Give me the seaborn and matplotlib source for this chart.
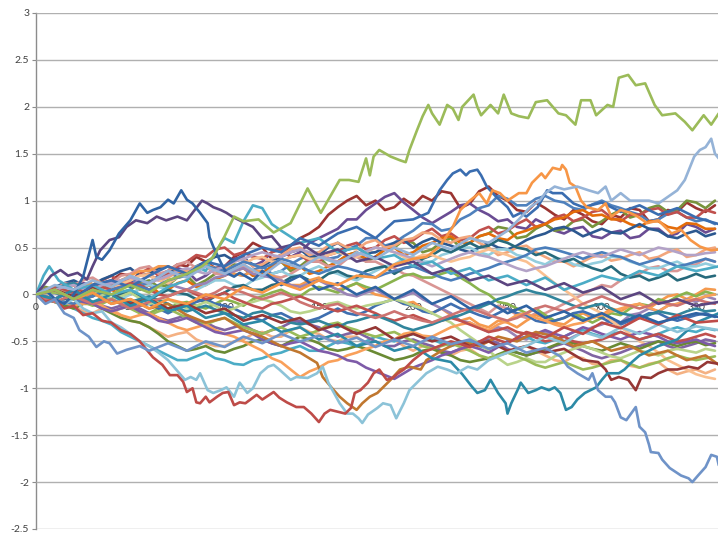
import numpy as np
import pandas as pd
import matplotlib
matplotlib.use("Agg")
import matplotlib.pyplot as plt
import seaborn as sns

# Common step grid (every 5 steps) for the grid-read walks
STEPS = list(range(0, 361, 5))

# Walks traced at irregular steps: (step, value)
green = [(0, 0.0), (10, 0.05), (20, -0.05), (30, 0.05), (40, 0.0), (50, 0.1), (60, 0.02), (70, 0.15),
         (80, 0.22), (88, 0.3), (94, 0.4), (100, 0.62), (105, 0.83), (110, 0.78), (118, 0.8), (126, 0.66),
         (135, 0.76), (144, 1.13), (151, 0.87), (161, 1.22), (166, 1.22), (171, 1.2), (175, 1.45),
         (177, 1.27), (179, 1.47), (182, 1.54), (188, 1.47), (193, 1.43), (196, 1.41), (198, 1.54),
         (202, 1.75), (205, 1.9), (208, 2.02), (210, 1.93), (214, 1.81), (218, 2.02), (221, 1.98),
         (224, 1.86), (226, 2.0), (232, 2.13), (234, 2.0), (236, 1.91), (241, 2.02), (245, 1.93),
         (248, 2.13), (252, 1.93), (256, 1.9), (261, 1.88), (265, 2.05), (271, 2.07), (277, 1.93),
         (281, 1.91), (286, 1.81), (289, 2.07), (294, 2.07), (297, 1.91), (303, 2.02), (306, 2.0),
         (309, 2.31), (314, 2.34), (318, 2.23), (323, 2.25), (328, 2.02), (332, 1.91), (339, 1.93),
         (344, 1.84), (348, 1.75), (354, 1.91), (358, 1.81), (362, 1.93)]

blue_low = [(0, 0.0), (5, -0.1), (10, -0.05), (15, -0.2), (20, -0.25), (23, -0.38), (28, -0.45), (32, -0.56),
            (36, -0.5), (39, -0.52), (43, -0.63), (48, -0.59), (55, -0.55), (60, -0.6), (70, -0.52), (80, -0.6),
            (90, -0.5), (100, -0.56), (110, -0.45), (120, -0.52), (130, -0.42), (140, -0.5), (150, -0.44),
            (160, -0.52), (170, -0.46), (180, -0.56), (190, -0.48), (200, -0.55), (210, -0.45), (220, -0.53),
            (230, -0.48), (240, -0.58), (250, -0.52), (260, -0.62), (270, -0.57), (278, -0.66), (282, -0.77),
            (287, -0.84), (293, -0.91), (295, -0.84), (298, -1.02), (302, -1.09), (305, -1.09), (307, -1.15),
            (310, -1.31), (313, -1.34), (318, -1.2), (320, -1.41), (323, -1.47), (325, -1.6), (326, -1.68),
            (330, -1.69), (332, -1.76), (336, -1.85), (339, -1.89), (342, -1.93), (346, -1.96), (348, -2.0),
            (351, -1.93), (355, -1.84), (358, -1.71), (361, -1.73), (362, -1.82)]

lblue_top = [(0, 0.0), (10, 0.1), (20, 0.05), (30, 0.15), (40, 0.08), (50, 0.2), (60, 0.12), (70, 0.25),
             (80, 0.18), (90, 0.3), (100, 0.22), (110, 0.32), (120, 0.2), (130, 0.35), (140, 0.28), (150, 0.4),
             (160, 0.33), (170, 0.45), (180, 0.38), (190, 0.5), (200, 0.42), (210, 0.55), (220, 0.48),
             (230, 0.6), (240, 0.55), (250, 0.68), (256, 0.8), (262, 0.93), (267, 1.0), (270, 1.08),
             (275, 1.15), (280, 1.12), (287, 1.15), (293, 1.11), (298, 1.08), (302, 1.15), (305, 1.0),
             (310, 1.08), (315, 1.0), (320, 1.0), (325, 1.0), (330, 0.97), (335, 1.04), (340, 1.11),
             (344, 1.22), (349, 1.47), (352, 1.54), (355, 1.57), (358, 1.66), (360, 1.5), (362, 1.45)]

red_low = [(0, 0.0), (5, -0.08), (10, -0.05), (15, -0.15), (20, -0.12), (25, -0.22), (30, -0.2), (35, -0.28),
           (40, -0.3), (45, -0.38), (50, -0.42), (55, -0.5), (62, -0.67), (67, -0.75), (71, -0.86), (75, -0.86),
           (78, -0.93), (80, -1.04), (83, -1.0), (85, -1.15), (87, -1.16), (90, -1.09), (92, -1.15), (96, -1.09),
           (99, -1.05), (102, -1.04), (105, -1.18), (108, -1.15), (111, -1.16), (117, -1.07), (120, -1.12),
           (126, -1.04), (129, -1.1), (133, -1.15), (138, -1.2), (142, -1.2), (146, -1.27), (150, -1.36),
           (153, -1.27), (156, -1.23), (160, -1.25), (164, -1.27), (167, -1.21), (169, -1.05), (172, -1.02),
           (176, -0.94), (179, -0.84), (182, -0.8), (186, -0.91), (189, -0.89), (192, -0.84), (195, -0.8),
           (200, -0.7), (205, -0.62), (210, -0.58), (220, -0.5), (230, -0.56), (240, -0.45), (250, -0.52),
           (260, -0.4), (270, -0.46), (280, -0.35), (290, -0.42), (300, -0.3), (310, -0.36), (320, -0.25),
           (330, -0.32), (340, -0.22), (350, -0.3), (362, -0.28)]

lblue_low = [(0, 0.0), (5, 0.05), (10, -0.05), (15, -0.1), (20, -0.05), (25, -0.15), (30, -0.2), (35, -0.18),
             (40, -0.3), (45, -0.35), (50, -0.42), (55, -0.5), (60, -0.55), (65, -0.62), (70, -0.7), (73, -0.77),
             (76, -0.84), (79, -0.91), (82, -0.88), (85, -0.91), (87, -0.84), (91, -1.02), (94, -1.05),
             (98, -1.02), (101, -0.99), (105, -1.09), (108, -0.94), (112, -1.05), (115, -1.0), (119, -0.84),
             (123, -0.77), (126, -0.75), (129, -0.8), (135, -0.91), (138, -0.88), (144, -0.89), (149, -0.84),
             (152, -0.77), (155, -0.94), (158, -1.05), (161, -1.16), (165, -1.27), (168, -1.27), (171, -1.32),
             (173, -1.37), (176, -1.28), (181, -1.21), (184, -1.16), (188, -1.18), (191, -1.32), (195, -1.16),
             (198, -1.02), (202, -0.94), (207, -0.84), (213, -0.77), (218, -0.8), (223, -0.84), (229, -0.77),
             (234, -0.8), (240, -0.7), (250, -0.62), (260, -0.55), (270, -0.45), (280, -0.52), (290, -0.4),
             (300, -0.46), (310, -0.35), (320, -0.42), (330, -0.32), (340, -0.4), (350, -0.34), (362, -0.38)]

teal_low = [(0, 0.0), (10, -0.05), (20, 0.05), (30, -0.08), (40, 0.0), (50, -0.12), (60, -0.05), (70, -0.18),
            (80, -0.12), (90, -0.25), (100, -0.2), (110, -0.32), (120, -0.28), (130, -0.4), (140, -0.35),
            (150, -0.48), (160, -0.42), (170, -0.55), (180, -0.5), (190, -0.6), (200, -0.55), (210, -0.68),
            (220, -0.72), (226, -0.85), (231, -0.98), (234, -1.05), (238, -1.02), (241, -0.91), (245, -1.05),
            (249, -1.16), (250, -1.27), (252, -1.16), (256, -0.99), (257, -0.94), (261, -1.05), (265, -1.02),
            (268, -0.99), (272, -1.02), (275, -0.99), (278, -1.05), (281, -1.23), (284, -1.2), (287, -1.12),
            (291, -1.05), (294, -1.02), (297, -0.99), (300, -0.91), (303, -0.84), (309, -0.84), (312, -0.8),
            (316, -0.72), (320, -0.65), (330, -0.55), (340, -0.48), (350, -0.3), (362, -0.2)]

darkred_low = [(0, 0.0), (10, 0.05), (20, -0.02), (30, 0.08), (40, 0.0), (50, -0.1), (60, -0.05), (70, -0.15),
               (80, -0.1), (90, -0.2), (100, -0.15), (110, -0.28), (120, -0.22), (130, -0.3), (140, -0.25),
               (150, -0.38), (160, -0.32), (170, -0.42), (180, -0.35), (190, -0.48), (200, -0.42), (210, -0.5),
               (220, -0.45), (230, -0.55), (240, -0.5), (250, -0.6), (260, -0.55), (270, -0.62), (280, -0.58),
               (290, -0.7), (298, -0.72), (302, -0.8), (305, -0.91), (309, -0.88), (314, -0.91), (318, -1.02),
               (321, -0.88), (326, -0.89), (330, -0.84), (335, -0.8), (340, -0.8), (346, -0.77), (351, -0.79),
               (356, -0.72), (362, -0.74)]

orange_top = [(0, 0.0), (10, 0.05), (20, -0.05), (30, 0.02), (40, -0.1), (50, -0.05), (60, -0.15), (70, -0.05),
              (80, -0.1), (90, 0.0), (100, -0.05), (110, 0.08), (120, 0.02), (130, 0.12), (140, 0.05),
              (150, 0.15), (160, 0.1), (170, 0.2), (180, 0.18), (190, 0.32), (200, 0.38), (207, 0.4),
              (214, 0.51), (221, 0.72), (225, 0.9), (230, 1.0), (235, 1.08), (239, 0.97), (242, 1.11),
              (246, 1.08), (250, 1.0), (256, 1.08), (260, 1.08), (263, 1.19), (268, 1.29), (270, 1.24),
              (274, 1.35), (278, 1.33), (279, 1.38), (281, 1.33), (283, 1.19), (286, 1.15), (289, 1.0),
              (292, 0.93), (298, 0.9), (302, 0.97), (305, 0.83), (310, 0.9), (315, 0.87), (319, 0.83),
              (324, 0.76), (330, 0.79), (337, 0.65), (342, 0.69), (347, 0.58), (352, 0.51), (358, 0.47),
              (362, 0.48)]

aqua_mid = [(0, 0.0), (4, 0.2), (7, 0.3), (12, 0.15), (20, 0.05), (30, 0.1), (40, 0.0), (50, 0.05), (60, -0.05),
            (70, 0.08), (80, 0.15), (85, 0.3), (90, 0.25), (95, 0.45), (100, 0.6), (105, 0.55), (110, 0.78),
            (115, 0.95), (120, 0.92), (125, 0.75), (130, 0.68), (140, 0.55), (150, 0.6), (160, 0.45),
            (170, 0.5), (180, 0.38), (190, 0.42), (200, 0.3), (210, 0.35), (220, 0.22), (230, 0.28),
            (240, 0.15), (250, 0.2), (260, 0.1), (270, 0.18), (280, 0.05), (290, 0.12), (300, 0.2),
            (310, 0.15), (320, 0.25), (330, 0.2), (340, 0.3), (350, 0.25), (362, 0.3)]

darkblue_early = [(0, 0.0), (5, 0.05), (10, -0.05), (15, -0.1), (20, 0.0), (25, 0.19), (30, 0.58), (32, 0.4),
                  (35, 0.37), (39, 0.47), (44, 0.65), (50, 0.79), (55, 0.97), (59, 0.87), (62, 0.9), (66, 0.93),
                  (70, 1.01), (73, 0.97), (77, 1.11), (80, 1.01), (83, 0.97), (87, 0.87), (91, 0.76), (92, 0.61),
                  (94, 0.51), (98, 0.34), (101, 0.23), (105, 0.19), (108, 0.23), (115, 0.15), (120, 0.25),
                  (130, 0.1), (140, 0.2), (150, 0.05), (160, 0.12), (170, 0.0), (180, 0.08), (190, -0.05),
                  (200, 0.05), (210, -0.1), (220, -0.02), (230, -0.15), (240, -0.08), (250, -0.2), (260, -0.12),
                  (270, -0.25), (280, -0.18), (290, -0.28), (300, -0.2), (310, -0.3), (320, -0.22), (330, -0.3),
                  (340, -0.25), (350, -0.2), (362, -0.24)]

purple_early = [(0, 0.0), (4, 0.1), (8, 0.2), (13, 0.26), (17, 0.2), (22, 0.23), (27, 0.16), (30, 0.3),
                (34, 0.47), (39, 0.58), (44, 0.61), (48, 0.72), (53, 0.79), (59, 0.76), (64, 0.83), (69, 0.79),
                (75, 0.83), (80, 0.79), (83, 0.87), (88, 1.0), (91, 0.97), (94, 0.93), (98, 0.9), (101, 0.87),
                (104, 0.83), (108, 0.79), (115, 0.72), (120, 0.6), (125, 0.62), (130, 0.5), (140, 0.55),
                (150, 0.42), (160, 0.48), (170, 0.35), (180, 0.4), (190, 0.3), (200, 0.35), (210, 0.22),
                (220, 0.28), (230, 0.15), (240, 0.2), (250, 0.1), (260, 0.15), (270, 0.05), (280, 0.12),
                (290, 0.02), (300, 0.08), (310, -0.05), (320, 0.02), (330, -0.1), (340, -0.05), (350, -0.12),
                (362, -0.08)]

blue_peak = [(0, 0.0), (10, 0.05), (20, -0.05), (30, 0.1), (40, 0.15), (50, 0.08), (60, 0.2), (70, 0.3),
             (80, 0.22), (90, 0.35), (100, 0.3), (110, 0.42), (120, 0.5), (130, 0.45), (140, 0.6), (150, 0.52),
             (160, 0.65), (170, 0.72), (180, 0.6), (190, 0.78), (200, 0.8), (208, 0.87), (214, 1.11),
             (218, 1.22), (221, 1.29), (225, 1.33), (228, 1.27), (230, 1.31), (234, 1.33), (236, 1.27),
             (239, 1.15), (244, 1.04), (250, 0.93), (253, 0.83), (257, 0.87), (260, 0.83), (266, 0.93),
             (271, 1.11), (274, 1.08), (279, 1.08), (285, 0.97), (290, 0.93), (300, 0.98), (310, 0.88),
             (320, 0.95), (330, 0.85), (340, 0.92), (350, 0.82), (362, 0.75)]

brown_low = [(0, 0.0), (10, 0.05), (20, -0.05), (30, 0.02), (40, -0.1), (50, -0.05), (60, -0.15), (70, -0.1),
             (80, -0.22), (90, -0.3), (100, -0.25), (110, -0.38), (120, -0.45), (130, -0.55), (140, -0.62),
             (149, -0.73), (152, -0.88), (157, -1.0), (161, -1.09), (165, -1.16), (170, -1.23), (173, -1.16),
             (177, -1.09), (181, -1.05), (184, -0.99), (188, -0.91), (193, -0.8), (198, -0.77), (204, -0.8),
             (207, -0.7), (215, -0.6), (225, -0.5), (235, -0.55), (245, -0.45), (255, -0.5), (265, -0.4),
             (275, -0.45), (285, -0.55), (295, -0.5), (305, -0.6), (315, -0.55), (325, -0.65), (335, -0.6),
             (345, -0.7), (355, -0.65), (362, -0.75)]

# Walks read on the 5-step grid (one row = 50 steps)
darkred_top = [0, 0.06, 0.05, 0.12, 0.1, 0.02, 0.05, 0.12, 0.15, 0.22,
               0.2, 0.08, 0.12, 0.2, 0.25, 0.32, 0.3, 0.4, 0.35, 0.28,
               0.3, 0.4, 0.45, 0.55, 0.5, 0.38, 0.42, 0.52, 0.6, 0.65,
               0.72, 0.85, 0.93, 1.0, 1.05, 0.95, 1.0, 0.9, 0.93, 1.02,
               0.95, 1.05, 1.0, 1.1, 1.08, 0.92, 0.97, 1.1, 1.15, 1.05,
               1.0, 0.9, 0.88, 0.98, 0.92, 0.85, 0.8, 0.9, 0.85, 0.78,
               0.75, 0.85, 0.82, 0.92, 0.9, 0.78, 0.8, 0.9, 0.88, 0.98,
               0.92, 0.88, 0.95]
purple_top = [0, 0.05, -0.05, 0.0, 0.05, 0.12, 0.1, 0.0, 0.05, 0.15,
              0.15, 0.05, 0.1, 0.18, 0.2, 0.28, 0.25, 0.15, 0.2, 0.28,
              0.3, 0.38, 0.4, 0.3, 0.35, 0.45, 0.5, 0.4, 0.45, 0.55,
              0.6, 0.65, 0.7, 0.8, 0.8, 0.9, 0.97, 1.04, 1.08, 0.98,
              0.9, 0.82, 0.76, 0.82, 0.88, 0.95, 0.97, 0.9, 0.85, 0.78,
              0.8, 0.72, 0.7, 0.8, 0.75, 0.68, 0.65, 0.7, 0.72, 0.62,
              0.6, 0.66, 0.68, 0.6, 0.62, 0.7, 0.7, 0.62, 0.65, 0.75,
              0.72, 0.66, 0.7]
olive = [0, 0.08, 0.05, -0.02, -0.05, 0.02, 0.0, 0.06, 0.1, 0.02,
         0.05, 0.12, 0.15, 0.08, 0.1, 0.18, 0.2, 0.1, 0.15, 0.22,
         0.25, 0.32, 0.3, 0.2, 0.22, 0.3, 0.35, 0.25, 0.3, 0.38,
         0.4, 0.3, 0.35, 0.42, 0.45, 0.35, 0.4, 0.48, 0.5, 0.58,
         0.55, 0.45, 0.48, 0.56, 0.6, 0.5, 0.55, 0.62, 0.65, 0.72,
         0.7, 0.6, 0.62, 0.7, 0.75, 0.68, 0.7, 0.78, 0.8, 0.72,
         0.78, 0.85, 0.9, 0.82, 0.85, 0.92, 0.95, 0.88, 0.9, 1.0,
         0.98, 0.92, 1.0]
blue_mid = [0, -0.06, -0.05, 0.02, 0.05, 0.0, -0.02, 0.05, 0.1, 0.15,
            0.18, 0.1, 0.12, 0.2, 0.25, 0.18, 0.2, 0.28, 0.32, 0.25,
            0.28, 0.22, 0.2, 0.26, 0.3, 0.22, 0.25, 0.32, 0.38, 0.42,
            0.45, 0.38, 0.4, 0.48, 0.52, 0.6, 0.6, 0.52, 0.55, 0.62,
            0.68, 0.76, 0.75, 0.68, 0.7, 0.8, 0.85, 0.92, 0.95, 1.05,
            1.02, 0.95, 0.95, 1.02, 1.05, 1.0, 0.98, 0.92, 0.9, 0.96,
            1.0, 0.95, 0.92, 0.88, 0.85, 0.78, 0.8, 0.86, 0.88, 0.82,
            0.78, 0.8, 0.75]
red_mid = [0, 0.02, 0.05, 0.1, 0.12, 0.05, 0.08, 0.15, 0.2, 0.12,
           0.15, 0.22, 0.28, 0.2, 0.22, 0.3, 0.35, 0.42, 0.4, 0.48,
           0.5, 0.42, 0.45, 0.4, 0.38, 0.45, 0.48, 0.4, 0.42, 0.35,
           0.35, 0.42, 0.45, 0.52, 0.55, 0.48, 0.5, 0.58, 0.62, 0.55,
           0.58, 0.65, 0.7, 0.62, 0.65, 0.58, 0.6, 0.68, 0.72, 0.65,
           0.68, 0.75, 0.8, 0.72, 0.75, 0.82, 0.85, 0.78, 0.82, 0.88,
           0.9, 0.82, 0.78, 0.85, 0.85, 0.9, 0.92, 0.85, 0.88, 0.82,
           0.82, 0.9, 0.87]
darkorange = [0, -0.02, -0.05, -0.1, -0.1, -0.05, -0.02, 0.05, 0.05, 0.0,
              0.0, 0.06, 0.1, 0.02, 0.05, 0.12, 0.15, 0.08, 0.1, 0.16,
              0.2, 0.25, 0.28, 0.2, 0.22, 0.3, 0.35, 0.28, 0.3, 0.22,
              0.25, 0.3, 0.35, 0.42, 0.45, 0.38, 0.4, 0.48, 0.5, 0.42,
              0.45, 0.52, 0.55, 0.6, 0.62, 0.55, 0.55, 0.62, 0.65, 0.6,
              0.58, 0.65, 0.68, 0.72, 0.75, 0.8, 0.82, 0.88, 0.9, 0.84,
              0.85, 0.8, 0.8, 0.75, 0.72, 0.78, 0.78, 0.72, 0.7, 0.76,
              0.75, 0.7, 0.7]
darkblue_mid = [0, 0.05, 0.08, 0.12, 0.15, 0.1, 0.1, 0.16, 0.2, 0.25,
                0.28, 0.2, 0.22, 0.28, 0.3, 0.22, 0.25, 0.3, 0.35, 0.4,
                0.42, 0.36, 0.38, 0.32, 0.3, 0.36, 0.4, 0.45, 0.48, 0.4,
                0.42, 0.5, 0.55, 0.48, 0.5, 0.44, 0.45, 0.5, 0.55, 0.58,
                0.5, 0.56, 0.6, 0.55, 0.52, 0.48, 0.45, 0.5, 0.55, 0.5,
                0.48, 0.52, 0.58, 0.62, 0.65, 0.7, 0.72, 0.68, 0.62, 0.66,
                0.7, 0.66, 0.65, 0.7, 0.75, 0.7, 0.68, 0.62, 0.6, 0.65,
                0.68, 0.62, 0.65]
peach = [0, -0.02, -0.05, 0.0, 0.05, 0.1, 0.1, 0.05, 0.05, 0.12,
         0.15, 0.2, 0.22, 0.15, 0.18, 0.24, 0.25, 0.3, 0.32, 0.25,
         0.28, 0.35, 0.38, 0.3, 0.32, 0.38, 0.42, 0.48, 0.5, 0.42,
         0.45, 0.52, 0.55, 0.5, 0.48, 0.55, 0.58, 0.5, 0.52, 0.58,
         0.6, 0.66, 0.65, 0.58, 0.55, 0.6, 0.62, 0.55, 0.5, 0.42,
         0.45, 0.5, 0.52, 0.45, 0.4, 0.35, 0.35, 0.3, 0.35, 0.4,
         0.42, 0.36, 0.38, 0.42, 0.45, 0.38, 0.4, 0.45, 0.48, 0.4,
         0.42, 0.48, 0.5]
pink = [0, 0.06, 0.05, 0.12, 0.1, 0.15, 0.18, 0.12, 0.12, 0.2,
        0.22, 0.28, 0.3, 0.22, 0.25, 0.32, 0.35, 0.28, 0.3, 0.22,
        0.22, 0.28, 0.3, 0.25, 0.25, 0.2, 0.18, 0.22, 0.28, 0.35,
        0.35, 0.3, 0.3, 0.38, 0.4, 0.35, 0.35, 0.3, 0.28, 0.22,
        0.2, 0.15, 0.1, 0.05, 0.0, -0.05, -0.1, -0.15, -0.2, -0.12,
        -0.15, -0.22, -0.25, -0.2, -0.2, -0.15, -0.1, -0.05, 0.0, 0.05,
        0.1, 0.08, 0.15, 0.2, 0.22, 0.28, 0.3, 0.25, 0.25, 0.3,
        0.32, 0.38, 0.35]
light_aqua = [0, 0.02, 0.05, 0.0, -0.05, -0.02, 0.02, 0.0, -0.08, -0.05,
              0.0, 0.06, 0.1, 0.08, 0.05, 0.0, 0.0, 0.05, 0.1, 0.15,
              0.15, 0.1, 0.08, 0.15, 0.18, 0.22, 0.25, 0.2, 0.2, 0.26,
              0.3, 0.25, 0.22, 0.18, 0.15, 0.2, 0.25, 0.3, 0.32, 0.38,
              0.4, 0.35, 0.35, 0.42, 0.45, 0.5, 0.5, 0.45, 0.42, 0.48,
              0.48, 0.42, 0.4, 0.35, 0.32, 0.38, 0.38, 0.32, 0.3, 0.33,
              0.35, 0.4, 0.4, 0.35, 0.32, 0.28, 0.28, 0.32, 0.35, 0.3,
              0.3, 0.33, 0.3]
dark_teal = [0, -0.05, -0.08, -0.05, -0.02, -0.06, -0.1, -0.05, -0.05, 0.0,
             0.02, -0.02, -0.05, 0.0, 0.05, 0.02, 0.0, -0.05, -0.08, -0.02,
             0.02, 0.08, 0.1, 0.05, 0.05, 0.1, 0.12, 0.18, 0.2, 0.15,
             0.15, 0.22, 0.25, 0.2, 0.18, 0.25, 0.28, 0.3, 0.22, 0.28,
             0.3, 0.38, 0.42, 0.48, 0.45, 0.5, 0.55, 0.5, 0.52, 0.58,
             0.55, 0.5, 0.48, 0.42, 0.45, 0.4, 0.35, 0.38, 0.32, 0.28,
             0.25, 0.3, 0.22, 0.18, 0.2, 0.15, 0.18, 0.22, 0.15, 0.18,
             0.22, 0.18, 0.2]
orange_mid = [0, 0.02, 0.05, 0.08, 0.1, 0.05, 0.15, 0.12, 0.08, 0.15,
              0.2, 0.25, 0.25, 0.3, 0.3, 0.25, 0.22, 0.28, 0.32, 0.28,
              0.28, 0.22, 0.2, 0.25, 0.25, 0.2, 0.15, 0.1, 0.1, 0.15,
              0.18, 0.1, 0.05, 0.08, 0.12, 0.05, 0.0, -0.02, -0.05, -0.1,
              -0.08, -0.15, -0.2, -0.15, -0.22, -0.28, -0.25, -0.32, -0.35, -0.28,
              -0.3, -0.35, -0.28, -0.22, -0.25, -0.3, -0.32, -0.25, -0.2, -0.25,
              -0.22, -0.15, -0.18, -0.12, -0.1, -0.15, -0.08, -0.02, 0.0, -0.05,
              0.0, 0.06, 0.05]
green_mid = [0, -0.02, -0.05, -0.1, -0.12, -0.08, -0.08, -0.12, -0.18, -0.15,
             -0.12, -0.18, -0.2, -0.15, -0.15, -0.1, -0.08, -0.12, -0.15, -0.1,
             -0.05, -0.08, -0.12, -0.05, -0.02, 0.02, 0.05, 0.0, -0.02, 0.05,
             0.08, 0.05, 0.02, 0.08, 0.12, 0.08, 0.05, 0.1, 0.15, 0.2,
             0.22, 0.18, 0.18, 0.22, 0.25, 0.18, 0.12, 0.05, 0.0, -0.08,
             -0.1, -0.15, -0.2, -0.15, -0.22, -0.28, -0.25, -0.2, -0.25, -0.3,
             -0.25, -0.2, -0.22, -0.15, -0.1, -0.12, -0.05, -0.08, -0.02, 0.02,
             -0.02, 0.03, 0.0]
lavender = [0, 0.03, 0.05, 0.02, 0.0, 0.05, 0.08, 0.12, 0.15, 0.1,
            0.1, 0.15, 0.2, 0.15, 0.12, 0.08, 0.05, 0.1, 0.12, 0.18,
            0.2, 0.25, 0.28, 0.22, 0.2, 0.18, 0.15, 0.1, 0.08, 0.12,
            0.15, 0.1, 0.05, 0.0, -0.02, 0.02, 0.05, 0.0, -0.05, -0.02,
            0.02, -0.05, -0.1, -0.15, -0.2, -0.28, -0.3, -0.35, -0.4, -0.35,
            -0.38, -0.45, -0.48, -0.42, -0.4, -0.45, -0.5, -0.45, -0.4, -0.35,
            -0.32, -0.28, -0.3, -0.22, -0.2, -0.15, -0.18, -0.12, -0.1, -0.05,
            -0.08, -0.02, -0.05]
blue_neg = [0, 0.05, 0.02, -0.02, -0.05, -0.08, -0.1, -0.05, -0.05, -0.1,
            -0.15, -0.12, -0.1, -0.15, -0.2, -0.15, -0.12, -0.08, -0.05, -0.1,
            -0.12, -0.15, -0.2, -0.25, -0.28, -0.22, -0.2, -0.25, -0.3, -0.28,
            -0.25, -0.2, -0.15, -0.2, -0.22, -0.18, -0.12, -0.08, -0.05, -0.1,
            -0.12, -0.18, -0.2, -0.15, -0.1, -0.15, -0.18, -0.22, -0.25, -0.2,
            -0.15, -0.2, -0.22, -0.28, -0.3, -0.28, -0.25, -0.2, -0.18, -0.22,
            -0.25, -0.3, -0.32, -0.28, -0.25, -0.2, -0.2, -0.25, -0.28, -0.25,
            -0.22, -0.2, -0.24]
salmon_a = [0, -0.02, -0.05, -0.1, -0.12, -0.18, -0.2, -0.15, -0.15, -0.22,
            -0.28, -0.3, -0.35, -0.4, -0.45, -0.42, -0.4, -0.48, -0.52, -0.55,
            -0.55, -0.5, -0.48, -0.42, -0.4, -0.45, -0.45, -0.38, -0.35, -0.4,
            -0.42, -0.48, -0.5, -0.45, -0.45, -0.52, -0.55, -0.5, -0.48, -0.55,
            -0.6, -0.55, -0.55, -0.62, -0.65, -0.6, -0.58, -0.65, -0.7, -0.65,
            -0.62, -0.58, -0.55, -0.6, -0.65, -0.7, -0.72, -0.66, -0.68, -0.74,
            -0.75, -0.7, -0.7, -0.76, -0.78, -0.74, -0.72, -0.8, -0.85, -0.82,
            -0.8, -0.84, -0.8]
salmon_b = [0, 0.02, 0.05, 0.0, 0.0, 0.06, 0.1, 0.05, 0.05, 0.1,
            0.15, 0.2, 0.2, 0.15, 0.12, 0.18, 0.22, 0.28, 0.3, 0.25,
            0.25, 0.3, 0.32, 0.38, 0.4, 0.35, 0.35, 0.4, 0.42, 0.38,
            0.38, 0.42, 0.45, 0.42, 0.4, 0.45, 0.5, 0.48, 0.45, 0.4,
            0.38, 0.42, 0.42, 0.38, 0.35, 0.38, 0.4, 0.45, 0.48, 0.45,
            0.42, 0.38, 0.35, 0.28, 0.2, 0.12, 0.05, -0.02, -0.1, -0.15,
            -0.2, -0.28, -0.35, -0.42, -0.5, -0.55, -0.62, -0.7, -0.75, -0.8,
            -0.85, -0.88, -0.9]
aqua_low = [0, -0.03, -0.05, -0.1, -0.15, -0.2, -0.25, -0.28, -0.32, -0.4,
            -0.45, -0.5, -0.55, -0.6, -0.65, -0.7, -0.7, -0.66, -0.62, -0.68,
            -0.7, -0.74, -0.75, -0.7, -0.68, -0.64, -0.62, -0.58, -0.55, -0.6,
            -0.6, -0.55, -0.5, -0.52, -0.55, -0.5, -0.45, -0.48, -0.5, -0.45,
            -0.42, -0.45, -0.48, -0.52, -0.55, -0.52, -0.5, -0.55, -0.58, -0.55,
            -0.5, -0.48, -0.45, -0.5, -0.52, -0.48, -0.45, -0.4, -0.38, -0.42,
            -0.45, -0.42, -0.4, -0.45, -0.48, -0.45, -0.42, -0.38, -0.35, -0.38,
            -0.4, -0.36, -0.38]
purple_low = [0, -0.03, -0.05, 0.0, 0.02, -0.04, -0.08, -0.12, -0.15, -0.12,
              -0.1, -0.15, -0.2, -0.25, -0.28, -0.25, -0.22, -0.28, -0.3, -0.35,
              -0.38, -0.35, -0.32, -0.38, -0.42, -0.38, -0.35, -0.3, -0.28, -0.32,
              -0.35, -0.4, -0.45, -0.42, -0.4, -0.45, -0.5, -0.55, -0.55, -0.5,
              -0.48, -0.52, -0.55, -0.6, -0.62, -0.58, -0.55, -0.5, -0.48, -0.52,
              -0.58, -0.62, -0.65, -0.62, -0.6, -0.55, -0.52, -0.56, -0.6, -0.65,
              -0.68, -0.65, -0.62, -0.58, -0.55, -0.52, -0.5, -0.55, -0.58, -0.55,
              -0.52, -0.48, -0.5]
darkgreen_low = [0, -0.05, -0.08, -0.12, -0.15, -0.1, -0.1, -0.15, -0.2, -0.25,
                 -0.28, -0.3, -0.35, -0.42, -0.5, -0.55, -0.6, -0.58, -0.55, -0.6,
                 -0.62, -0.58, -0.55, -0.5, -0.48, -0.52, -0.55, -0.5, -0.45, -0.48,
                 -0.52, -0.58, -0.6, -0.58, -0.55, -0.58, -0.62, -0.66, -0.7, -0.68,
                 -0.65, -0.6, -0.58, -0.62, -0.65, -0.7, -0.72, -0.7, -0.68, -0.64,
                 -0.6, -0.62, -0.65, -0.62, -0.58, -0.54, -0.5, -0.52, -0.55, -0.58,
                 -0.6, -0.56, -0.52, -0.55, -0.58, -0.54, -0.5, -0.52, -0.55, -0.52,
                 -0.5, -0.54, -0.52]
light_green = [0, 0.03, 0.05, 0.02, -0.02, 0.02, 0.05, 0.0, -0.05, -0.02,
               0.02, -0.04, -0.1, -0.08, -0.05, -0.1, -0.15, -0.12, -0.08, -0.12,
               -0.18, -0.15, -0.1, -0.08, -0.05, -0.08, -0.12, -0.18, -0.2, -0.18,
               -0.15, -0.1, -0.08, -0.12, -0.15, -0.12, -0.1, -0.08, -0.05, -0.08,
               -0.12, -0.15, -0.2, -0.25, -0.3, -0.38, -0.45, -0.52, -0.6, -0.68,
               -0.75, -0.72, -0.68, -0.72, -0.72, -0.66, -0.62, -0.58, -0.55, -0.58,
               -0.62, -0.66, -0.68, -0.64, -0.6, -0.62, -0.65, -0.6, -0.58, -0.6,
               -0.62, -0.58, -0.6]
green_low = [0, 0.02, 0.02, 0.0, -0.05, -0.08, -0.12, -0.1, -0.05, -0.1,
             -0.15, -0.2, -0.22, -0.18, -0.15, -0.2, -0.25, -0.3, -0.32, -0.28,
             -0.25, -0.3, -0.35, -0.38, -0.42, -0.38, -0.35, -0.4, -0.45, -0.42,
             -0.38, -0.32, -0.3, -0.35, -0.38, -0.42, -0.45, -0.42, -0.4, -0.45,
             -0.5, -0.55, -0.58, -0.55, -0.52, -0.56, -0.6, -0.65, -0.68, -0.65,
             -0.62, -0.66, -0.7, -0.75, -0.78, -0.75, -0.72, -0.76, -0.8, -0.78,
             -0.75, -0.72, -0.7, -0.74, -0.78, -0.75, -0.72, -0.68, -0.65, -0.68,
             -0.7, -0.68, -0.66]
orange_low = [0, -0.02, -0.05, -0.08, -0.12, -0.1, -0.08, -0.12, -0.18, -0.22,
              -0.25, -0.22, -0.2, -0.25, -0.3, -0.35, -0.38, -0.35, -0.32, -0.38,
              -0.42, -0.45, -0.5, -0.55, -0.6, -0.68, -0.72, -0.8, -0.88, -0.82,
              -0.78, -0.72, -0.7, -0.65, -0.62, -0.58, -0.55, -0.5, -0.48, -0.42,
              -0.4, -0.44, -0.45, -0.4, -0.35, -0.32, -0.3, -0.35, -0.38, -0.32,
              -0.28, -0.22, -0.2, -0.25, -0.28, -0.32, -0.35, -0.32, -0.3, -0.25,
              -0.22, -0.18, -0.15, -0.12, -0.1, -0.14, -0.18, -0.12, -0.1, -0.06,
              -0.05, -0.02, 0.0]
violet_low = [0, 0.03, 0.05, 0.0, -0.05, -0.08, -0.1, -0.15, -0.18, -0.15,
              -0.12, -0.18, -0.22, -0.28, -0.3, -0.28, -0.25, -0.3, -0.35, -0.4,
              -0.42, -0.4, -0.38, -0.42, -0.48, -0.52, -0.55, -0.52, -0.5, -0.55,
              -0.6, -0.62, -0.65, -0.7, -0.72, -0.78, -0.82, -0.86, -0.9, -0.84,
              -0.78, -0.74, -0.7, -0.65, -0.62, -0.58, -0.55, -0.58, -0.62, -0.56,
              -0.5, -0.48, -0.45, -0.42, -0.38, -0.42, -0.45, -0.4, -0.35, -0.38,
              -0.42, -0.45, -0.48, -0.44, -0.4, -0.42, -0.45, -0.5, -0.52, -0.5,
              -0.48, -0.52, -0.55]
red_neg = [0, 0.05, 0.08, 0.05, 0.02, 0.06, 0.1, 0.08, 0.05, 0.08,
           0.12, 0.1, 0.05, 0.0, -0.02, 0.02, 0.05, 0.0, -0.05, -0.02,
           0.02, -0.04, -0.08, -0.12, -0.15, -0.1, -0.08, -0.05, -0.02, -0.06,
           -0.1, -0.15, -0.18, -0.15, -0.12, -0.16, -0.2, -0.25, -0.28, -0.25,
           -0.22, -0.26, -0.3, -0.28, -0.25, -0.28, -0.32, -0.36, -0.4, -0.38,
           -0.35, -0.4, -0.42, -0.46, -0.5, -0.48, -0.45, -0.5, -0.52, -0.5,
           -0.48, -0.44, -0.4, -0.44, -0.48, -0.45, -0.42, -0.46, -0.5, -0.48,
           -0.45, -0.42, -0.45]
blue_pos = [0, -0.02, -0.05, -0.08, -0.1, -0.05, -0.02, 0.02, 0.05, 0.08,
            0.1, 0.08, 0.05, 0.1, 0.15, 0.18, 0.22, 0.25, 0.3, 0.28,
            0.25, 0.3, 0.35, 0.32, 0.28, 0.32, 0.38, 0.35, 0.3, 0.25,
            0.22, 0.26, 0.3, 0.28, 0.25, 0.22, 0.18, 0.22, 0.25, 0.28,
            0.3, 0.26, 0.22, 0.18, 0.15, 0.18, 0.22, 0.25, 0.28, 0.32,
            0.35, 0.38, 0.42, 0.48, 0.5, 0.48, 0.45, 0.42, 0.38, 0.42,
            0.45, 0.42, 0.4, 0.36, 0.32, 0.35, 0.38, 0.34, 0.3, 0.32,
            0.35, 0.38, 0.35]
teal_mid = [0, 0.02, 0.05, 0.1, 0.12, 0.08, 0.05, 0.02, 0.0, -0.04,
            -0.08, -0.05, -0.02, -0.06, -0.1, -0.15, -0.18, -0.15, -0.12, -0.16,
            -0.2, -0.22, -0.25, -0.2, -0.18, -0.22, -0.25, -0.3, -0.32, -0.3,
            -0.28, -0.32, -0.35, -0.3, -0.28, -0.25, -0.22, -0.26, -0.3, -0.35,
            -0.38, -0.35, -0.32, -0.28, -0.25, -0.22, -0.18, -0.14, -0.1, -0.05,
            -0.02, 0.02, 0.05, 0.02, 0.0, -0.04, -0.08, -0.12, -0.15, -0.12,
            -0.1, -0.15, -0.2, -0.22, -0.25, -0.22, -0.18, -0.2, -0.22, -0.18,
            -0.15, -0.18, -0.17]
lilac = [0, 0.02, 0.05, 0.08, 0.1, 0.06, 0.05, 0.1, 0.12, 0.15,
         0.18, 0.15, 0.12, 0.16, 0.2, 0.25, 0.28, 0.25, 0.22, 0.26,
         0.3, 0.35, 0.38, 0.42, 0.45, 0.42, 0.4, 0.45, 0.48, 0.45,
         0.42, 0.38, 0.35, 0.38, 0.42, 0.46, 0.5, 0.48, 0.45, 0.42,
         0.38, 0.34, 0.3, 0.34, 0.38, 0.42, 0.45, 0.42, 0.4, 0.36,
         0.32, 0.28, 0.25, 0.28, 0.3, 0.34, 0.38, 0.42, 0.45, 0.42,
         0.4, 0.44, 0.48, 0.45, 0.42, 0.46, 0.5, 0.48, 0.45, 0.42,
         0.42, 0.44, 0.45]
rose = [0, -0.05, -0.08, -0.04, -0.02, -0.06, -0.1, -0.08, -0.05, -0.1,
        -0.15, -0.12, -0.08, -0.05, -0.02, 0.02, 0.05, 0.02, -0.02, 0.02,
        0.08, 0.05, 0.02, -0.02, -0.05, -0.02, 0.02, -0.02, -0.08, -0.12,
        -0.15, -0.12, -0.1, -0.15, -0.2, -0.22, -0.25, -0.22, -0.18, -0.22,
        -0.25, -0.28, -0.3, -0.26, -0.22, -0.18, -0.15, -0.18, -0.22, -0.25,
        -0.28, -0.25, -0.2, -0.15, -0.12, -0.15, -0.18, -0.14, -0.1, -0.06,
        -0.02, -0.06, -0.1, -0.12, -0.15, -0.12, -0.08, -0.1, -0.12, -0.08,
        -0.05, -0.08, -0.1]

Y_TICKS = [3, 2.5, 2, 1.5, 1, 0.5, 0, -0.5, -1, -1.5, -2, -2.5]
X_TICKS = [0, 50, 100, 150, 200, 250, 300, 350]

# Draw order (first drawn sits underneath) with line colours
grid_walks = [
    ("darkred_top", darkred_top, "#9B3431"), ("purple_top", purple_top, "#6A4C93"),
    ("olive", olive, "#77933C"), ("blue_mid", blue_mid, "#4F81BD"), ("red_mid", red_mid, "#C0504D"),
    ("darkorange", darkorange, "#E46C0A"), ("darkblue_mid", darkblue_mid, "#2C5890"),
    ("peach", peach, "#F2A67C"), ("pink", pink, "#D99694"), ("light_aqua", light_aqua, "#93CDDD"),
    ("dark_teal", dark_teal, "#276A7C"), ("orange_mid", orange_mid, "#F59A4E"),
    ("green_mid", green_mid, "#8AB34E"), ("lavender", lavender, "#9983B5"), ("blue_neg", blue_neg, "#3F6FB0"),
    ("salmon_a", salmon_a, "#F4B183"), ("salmon_b", salmon_b, "#FAC090"), ("aqua_low", aqua_low, "#4BACC6"),
    ("purple_low", purple_low, "#8064A2"), ("darkgreen_low", darkgreen_low, "#6A8A34"),
    ("light_green", light_green, "#B9D38A"), ("green_low", green_low, "#9BBB59"),
    ("orange_low", orange_low, "#F9A05A"), ("violet_low", violet_low, "#7E5BA8"),
    ("red_neg", red_neg, "#C0504D"), ("blue_pos", blue_pos, "#4A7EBB"), ("teal_mid", teal_mid, "#31859C"),
    ("lilac", lilac, "#B3A2C7"), ("rose", rose, "#CD7371"),
]
traced_walks = [
    ("brown_low", brown_low, "#C0772F"), ("darkred_low", darkred_low, "#953735"),
    ("teal_low", teal_low, "#2C8AA6"), ("lblue_low", lblue_low, "#8CC3D8"), ("red_low", red_low, "#BE4B48"),
    ("aqua_mid", aqua_mid, "#4BACC6"), ("purple_early", purple_early, "#5B4580"),
    ("darkblue_early", darkblue_early, "#2F63A3"), ("blue_peak", blue_peak, "#3A6DB0"),
    ("orange_top", orange_top, "#F79646"), ("lblue_top", lblue_top, "#95B3D7"),
    ("blue_low", blue_low, "#6F93C8"), ("green", green, "#9BBB59"),
]

rows = []
palette = {}
order = []
for name, vals, color in grid_walks:
    for s, v in zip(STEPS, vals):
        rows.append((name, s, v))
    palette[name] = color
    order.append(name)
for name, pts, color in traced_walks:
    for s, v in pts:
        rows.append((name, s, v))
    palette[name] = color
    order.append(name)
df = pd.DataFrame(rows, columns=["walk", "step", "value"])

sns.set_theme(style="white")
plt.rcParams["font.family"] = ["Lato", "DejaVu Sans"]

fig = plt.figure(figsize=(7.18, 5.33), dpi=100)
ax = fig.add_axes([36 / 718, 4 / 533, 682 / 718, 516 / 533])

sns.lineplot(data=df, x="step", y="value", hue="walk", hue_order=order, palette=palette,
             estimator=None, sort=False, legend=False, linewidth=1.9, ax=ax)

ax.set_xlim(0, 361.6)
ax.set_ylim(-2.5, 3)
ax.set_xlabel("")
ax.set_ylabel("")

ax.set_yticks(Y_TICKS)
ax.set_yticklabels([f"{t:g}" for t in Y_TICKS])
ax.set_xticks(X_TICKS)
ax.set_xticklabels([str(t) for t in X_TICKS])

ax.yaxis.grid(True, color="#B0B0B0", linewidth=1.0)
ax.xaxis.grid(False)
ax.set_axisbelow(True)

for side in ("top", "right"):
    ax.spines[side].set_visible(False)
ax.spines["left"].set_color("#8C8C8C")
ax.spines["left"].set_linewidth(1.0)
ax.spines["bottom"].set_position(("data", 0))
ax.spines["bottom"].set_color("#9A9A9A")
ax.spines["bottom"].set_linewidth(1.0)
for sp in ax.spines.values():
    sp.set_zorder(0.5)

ax.tick_params(axis="y", left=True, length=3, width=0.8, color="#8C8C8C", labelsize=7.5,
               labelcolor="#404040", pad=2)
ax.tick_params(axis="x", bottom=True, length=0, labelsize=7.5, labelcolor="#404040", pad=6)

fig.savefig("out.png", dpi=100)
